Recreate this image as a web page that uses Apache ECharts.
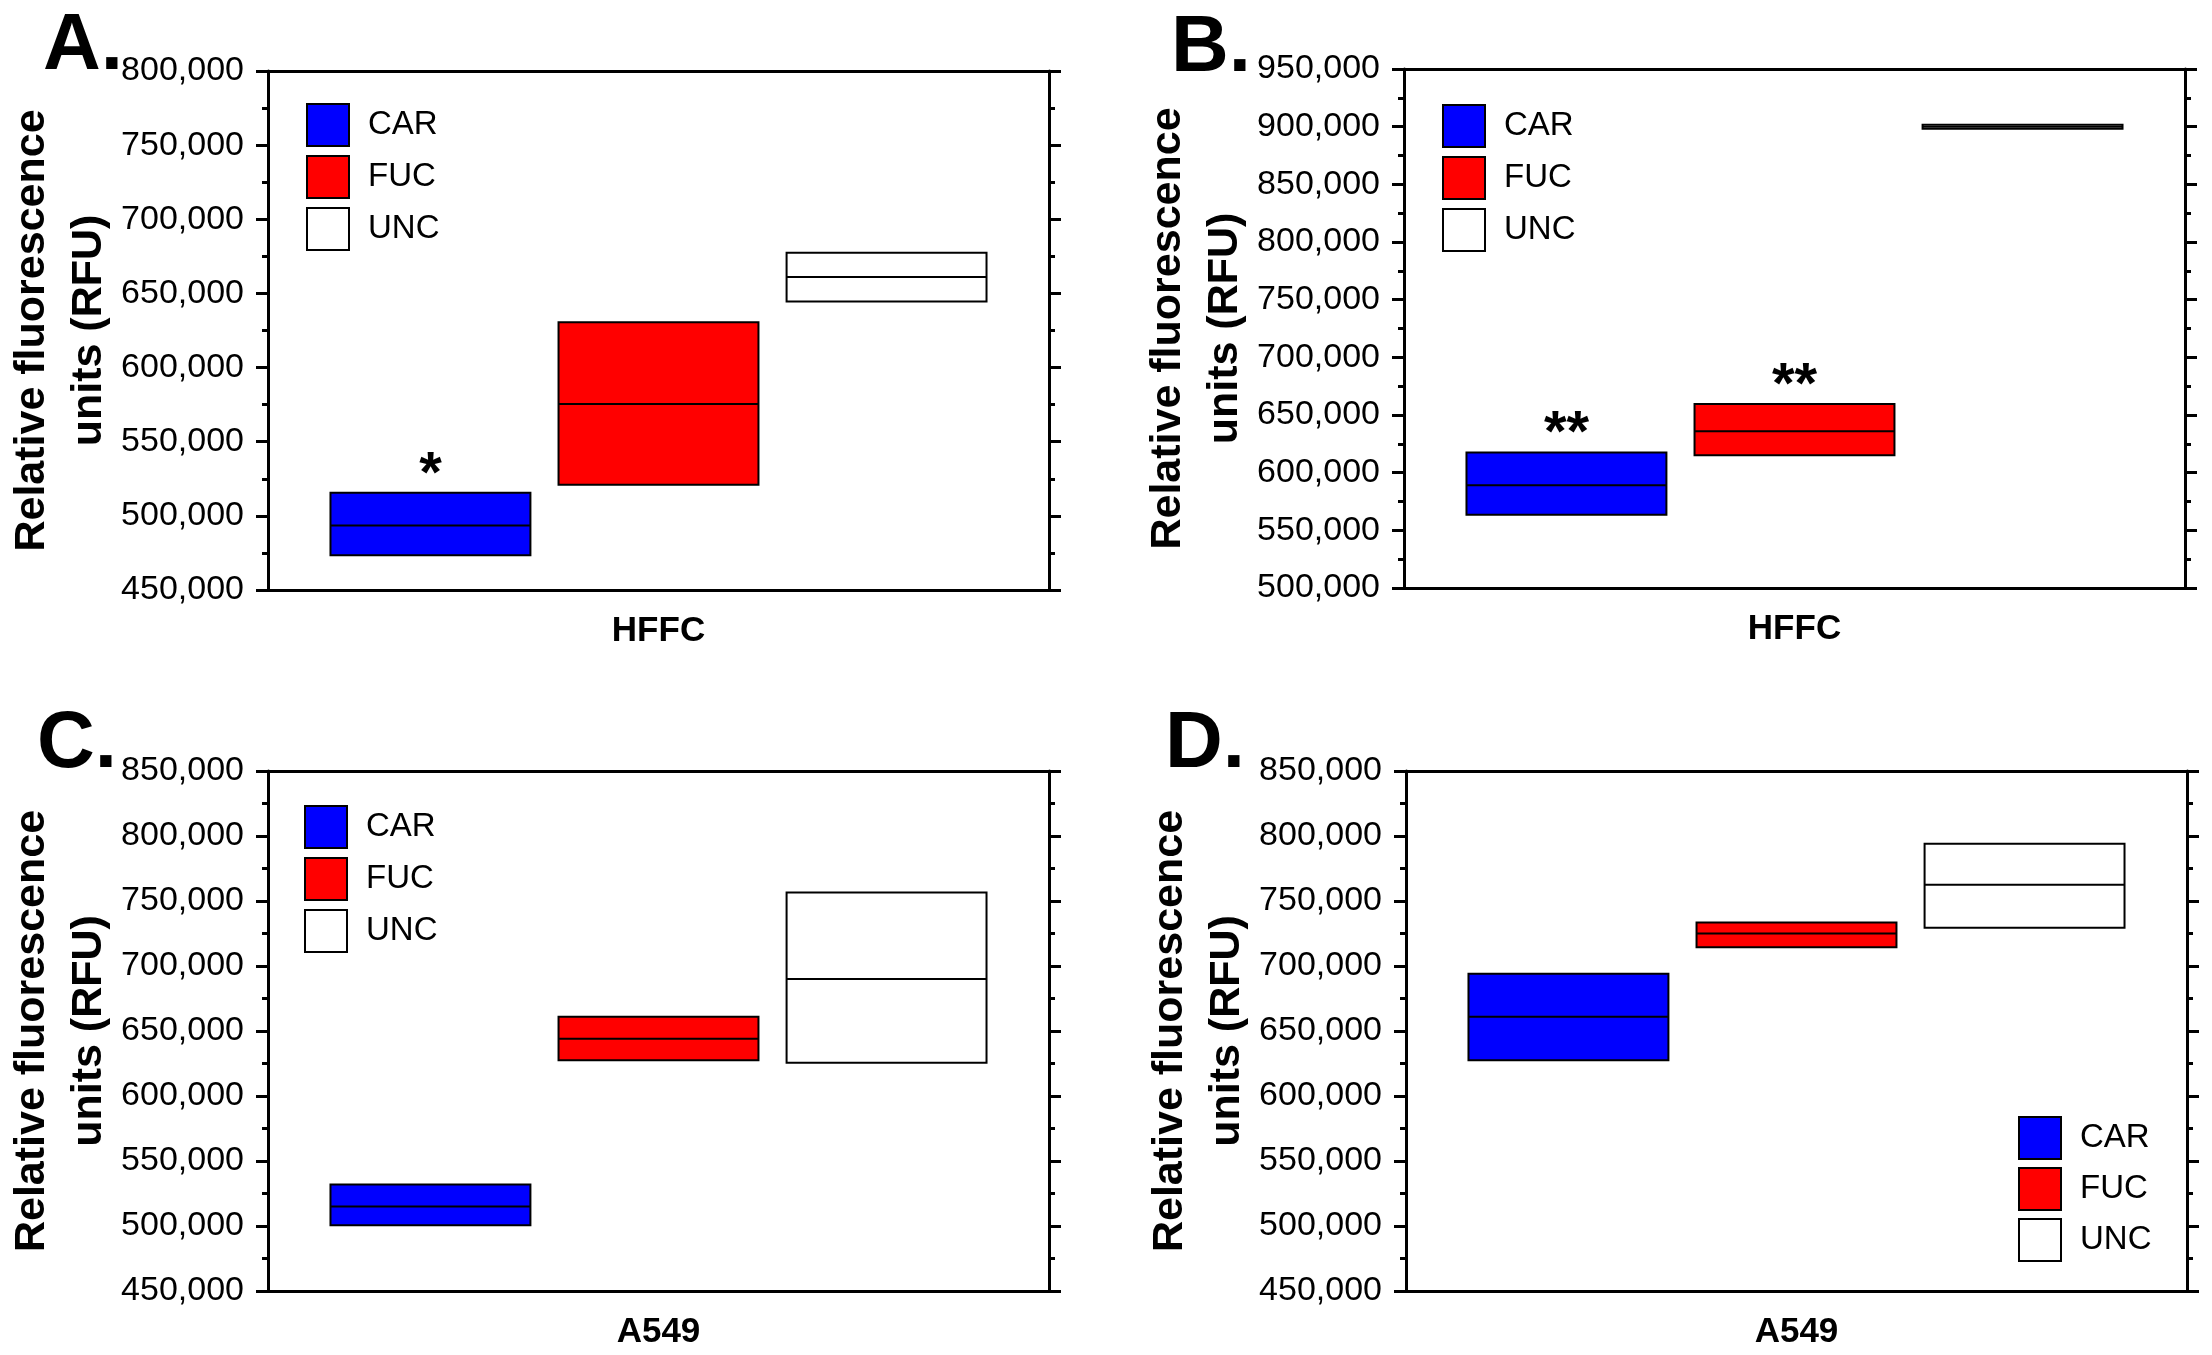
<!DOCTYPE html>
<html><head><meta charset="utf-8">
<script src="https://cdn.jsdelivr.net/npm/echarts@6/dist/echarts.min.js"></script>
<style>html,body{margin:0;padding:0;background:#fff}#c{width:2212px;height:1355px}</style>
</head><body><div id="c"></div>
<script>
const FONT = '"Liberation Sans", Arial, Helvetica, sans-serif';

// ---- data ----
const groups = ['CAR', 'FUC', 'UNC'];
const groupColors = ['#0000ff', '#ff0000', '#ffffff'];
const catTop = ['HFFC'];
const catBottom = ['A549'];
const yTitle = 'Relative fluorescence\nunits (RFU)';
const yInterval = 50000;

// [low, median, high]
const aCAR = [473500, 493500, 515500];
const aFUC = [521000, 575500, 630500];
const aUNC = [644500, 661000, 677500];
const aMarks = ['*', '', ''];
const aRange = [450000, 800000];

const bCAR = [563500, 589000, 617500];
const bFUC = [615000, 636000, 659500];
const bUNC = [898300, 900000, 901700];
const bMarks = ['**', '**', ''];
const bRange = [500000, 950000];

const cCAR = [500500, 515000, 532000];
const cFUC = [627500, 644000, 661000];
const cUNC = [625500, 690000, 756500];
const cMarks = ['', '', ''];
const cRange = [450000, 850000];

const dCAR = [627500, 661000, 694000];
const dFUC = [714500, 725000, 733500];
const dUNC = [729500, 762500, 794000];
const dMarks = ['', '', ''];
const dRange = [450000, 850000];

// ---- layout ----
const boxOffsets = [-0.292, 0, 0.292];
const boxWidth = 0.256;

const panels = [
  {id: 'A', grid: {left: 268, top: 71, width: 781, height: 519}, cat: catTop, range: aRange,
   data: [aCAR, aFUC, aUNC], marks: aMarks, legend: {left: 306, top: 103, gap: 8}, letter: [43, 47]},
  {id: 'B', grid: {left: 1404, top: 69, width: 781, height: 519}, cat: catTop, range: bRange,
   data: [bCAR, bFUC, bUNC], marks: bMarks, legend: {left: 1442, top: 104, gap: 8}, letter: [1171, 49]},
  {id: 'C', grid: {left: 268, top: 771, width: 781, height: 520}, cat: catBottom, range: cRange,
   data: [cCAR, cFUC, cUNC], marks: cMarks, legend: {left: 304, top: 805, gap: 8}, letter: [37, 745]},
  {id: 'D', grid: {left: 1406, top: 771, width: 781, height: 520}, cat: catBottom, range: dRange,
   data: [dCAR, dFUC, dUNC], marks: dMarks, legend: {left: 2018, top: 1116, gap: 7}, letter: [1165, 745]}
];

const axisLineStyle = {color: '#000', width: 3};
const fmt = v => Math.round(v).toLocaleString('en-US');

function makeRender(k, marks) {
  return function (params, api) {
    const bw = api.size([1, 0])[0];
    const lo = api.coord([api.value(0), api.value(1)]);
    const md = api.coord([api.value(0), api.value(2)]);
    const hi = api.coord([api.value(0), api.value(3)]);
    const cx = lo[0] + boxOffsets[k] * bw;
    const w = boxWidth * bw;
    const x0 = cx - w / 2;
    const children = [
      {type: 'rect', shape: {x: x0, y: hi[1], width: w, height: lo[1] - hi[1]},
       style: {fill: groupColors[k], stroke: '#000', lineWidth: 2}},
      {type: 'line', shape: {x1: x0, y1: md[1], x2: x0 + w, y2: md[1]},
       style: {stroke: '#000', lineWidth: 2}}
    ];
    if (marks[k]) {
      children.push({type: 'text', x: cx, y: hi[1] - 17,
        style: {text: marks[k], align: 'center', verticalAlign: 'middle',
                font: 'bold 58px ' + FONT, fill: '#000'}});
    }
    return {type: 'group', children};
  };
}

const grid = [], xAxis = [], yAxis = [], series = [], legend = [], graphic = [];
panels.forEach((p, i) => {
  grid.push(Object.assign({containLabel: false}, p.grid));
  xAxis.push({type: 'category', gridIndex: i, position: 'bottom', data: p.cat,
    axisLine: {lineStyle: axisLineStyle},
    axisTick: {alignWithLabel: true, length: 9, lineStyle: axisLineStyle},
    axisLabel: {color: '#000', fontSize: 35, fontWeight: 'bold', fontFamily: FONT, margin: 24},
    splitLine: {show: false}});
  xAxis.push({type: 'category', gridIndex: i, position: 'top', data: p.cat,
    axisLine: {lineStyle: axisLineStyle},
    axisTick: {alignWithLabel: true, length: 9, lineStyle: axisLineStyle},
    axisLabel: {show: false}, splitLine: {show: false}});
  const yBase = {type: 'value', gridIndex: i, min: p.range[0], max: p.range[1], interval: yInterval,
    axisLine: {show: true, lineStyle: axisLineStyle},
    axisTick: {show: true, length: 12, lineStyle: axisLineStyle},
    minorTick: {show: true, splitNumber: 2, length: 6, lineStyle: axisLineStyle},
    splitLine: {show: false}, minorSplitLine: {show: false}};
  yAxis.push(Object.assign({}, yBase, {position: 'left',
    name: yTitle, nameLocation: 'middle', nameGap: 140,
    nameTextStyle: {color: '#000', fontSize: 43, fontWeight: 'bold', fontFamily: FONT, lineHeight: 57},
    axisLabel: {color: '#000', fontSize: 34, fontFamily: FONT, margin: 24, formatter: fmt}}));
  yAxis.push(Object.assign({}, yBase, {position: 'right', axisLabel: {show: false}}));

  groups.forEach((g, k) => {
    const v = p.data[k];
    series.push({type: 'custom', name: g, xAxisIndex: 2 * i, yAxisIndex: 2 * i,
      itemStyle: {color: groupColors[k]},
      renderItem: makeRender(k, p.marks),
      encode: {x: 0, y: [1, 2, 3]},
      data: [[0, v[0], v[1], v[2]]]});
  });

  legend.push({left: p.legend.left, top: p.legend.top, orient: 'vertical', padding: 0,
    itemWidth: 42, itemHeight: 42, itemGap: p.legend.gap, selectedMode: false,
    textStyle: {fontSize: 33, fontFamily: FONT, color: '#000', padding: [0, 0, 0, 14]},
    data: groups.map((g, k) => ({name: g, icon: 'rect',
      itemStyle: {color: groupColors[k], borderColor: '#000', borderWidth: 2}}))});

  graphic.push({type: 'text', x: p.letter[0], y: p.letter[1],
    style: {text: p.id + '.', font: 'bold 80px ' + FONT, fill: '#000',
            align: 'left', verticalAlign: 'middle'}});
});

const chart = echarts.init(document.getElementById('c'), null, {renderer: 'canvas'});
chart.setOption({
  animation: false,
  backgroundColor: '#fff',
  grid, xAxis, yAxis, series, legend, graphic
});
</script>
</body></html>
